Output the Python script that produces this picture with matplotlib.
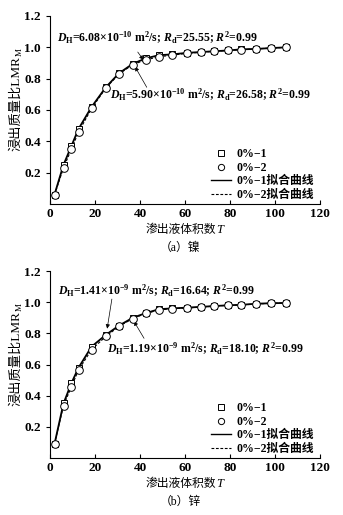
import matplotlib
matplotlib.use("Agg")
import matplotlib.pyplot as plt

plt.rcParams['font.family'] = ['Liberation Serif', 'Noto Sans CJK SC']
plt.rcParams['mathtext.fontset'] = 'custom'
plt.rcParams['mathtext.rm'] = 'Liberation Serif:bold'
plt.rcParams['mathtext.it'] = 'Liberation Serif:italic:bold'
plt.rcParams['axes.unicode_minus'] = False

# Leached volume number T (same sampling for both panels)
t_vals = [2, 6, 9.5, 12.7, 18.5, 24.8, 30.7, 36.8, 42.6, 48.5, 54.3, 61, 67, 73, 79, 85, 91.5, 98, 104.7]

# (a) nickel
ni_1 = [0.06, 0.25, 0.37, 0.48, 0.62, 0.745, 0.835, 0.895, 0.93, 0.95, 0.955, 0.965, 0.97, 0.975, 0.98, 0.987, 0.99, 0.995, 1.0]
ni_2 = [0.06, 0.23, 0.35, 0.46, 0.61, 0.74, 0.83, 0.89, 0.92, 0.94, 0.95, 0.962, 0.968, 0.975, 0.98, 0.985, 0.99, 0.995, 1.0]

# (b) zinc
zn_1 = [0.09, 0.35, 0.48, 0.58, 0.715, 0.79, 0.85, 0.9, 0.93, 0.955, 0.96, 0.965, 0.97, 0.975, 0.98, 0.983, 0.99, 0.993, 0.995]
zn_2 = [0.09, 0.336, 0.457, 0.565, 0.696, 0.78, 0.845, 0.895, 0.928, 0.95, 0.958, 0.963, 0.968, 0.975, 0.98, 0.982, 0.988, 0.993, 0.995]

labels = ['0%−1', '0%−2', '0%−1拟合曲线', '0%−2拟合曲线']

W, H = 343, 515
panels = [
    dict(top=16, bottom=204, y1=ni_1, y2=ni_2, cap='（a）镍',
         ann=[(r'$D_\mathrm{H}$=6.08×10$^{-10}$ m$^2$/s; $R_\mathrm{d}$=25.55; $R^2$=0.99', (3.1, 1.06), (39.0, 0.97), (41.5, 0.92)),
              (r'$D_\mathrm{H}$=5.90×10$^{-10}$ m$^2$/s; $R_\mathrm{d}$=26.58; $R^2$=0.99', (26.7, 0.70), (43.0, 0.745), (37.8, 0.876))]),
    dict(top=271, bottom=458, y1=zn_1, y2=zn_2, cap='（b）锌',
         ann=[(r'$D_\mathrm{H}$=1.41×10$^{-9}$ m$^2$/s; $R_\mathrm{d}$=16.64; $R^2$=0.99', (3.6, 1.07), (27.5, 1.02), (25.4, 0.83)),
              (r'$D_\mathrm{H}$=1.19×10$^{-9}$ m$^2$/s; $R_\mathrm{d}$=18.10; $R^2$=0.99', (25.3, 0.70), (41.8, 0.768), (37.3, 0.877))]),
]

fig = plt.figure(figsize=(3.43, 5.15), dpi=100)

def fx(px):
    return px / W

def fy(py):
    return 1 - py / H

for p in panels:
    ax = fig.add_axes([fx(50), fy(p['bottom']), fx(320) - fx(50), (p['bottom'] - p['top']) / H])
    ax.plot(t_vals, p['y1'], 's', ms=5, mfc='white', mec='k', mew=0.7, zorder=3)
    ax.plot(t_vals, p['y2'], 'o', ms=5.5, mfc='white', mec='k', mew=0.7, zorder=4)
    ax.plot(t_vals, p['y1'], '-', color='k', lw=1.3, zorder=2)
    ax.plot(t_vals, p['y2'], '--', color='k', lw=0.8, dashes=(2.5, 1.5), zorder=2)

    for txt, pos, tail, head in p['ann']:
        ax.text(pos[0], pos[1], txt, fontsize=8.5, fontweight='bold', va='center', ha='left')
        ax.annotate('', xy=head, xytext=tail,
                    arrowprops=dict(arrowstyle='-|>', lw=0.5, color='k', mutation_scale=6,
                                    shrinkA=0, shrinkB=0))

    ax.set_xlim(0, 120)
    ax.set_ylim(0, 1.2)
    ax.set_xticks([0, 20, 40, 60, 80, 100, 120])
    ax.set_yticks([0.2, 0.4, 0.6, 0.8, 1.0, 1.2])
    ax.set_yticklabels(['0.2', '0.4', '0.6', '0.8', '1.0', '1.2'])
    ax.spines['top'].set_visible(False)
    ax.spines['right'].set_visible(False)
    ax.spines['left'].set_linewidth(0.8)
    ax.spines['bottom'].set_linewidth(0.8)
    ax.tick_params(axis='x', direction='in', length=3, width=0.8, labelsize=9.5, pad=3)
    ax.tick_params(axis='y', direction='out', length=3, width=0.8, labelsize=9.5)
    for lbl in ax.get_xticklabels() + ax.get_yticklabels():
        lbl.set_fontweight('bold')

    h = [plt.Line2D([], [], ls='', marker='s', ms=4, mfc='white', mec='k', mew=0.7),
         plt.Line2D([], [], ls='', marker='o', ms=4.5, mfc='white', mec='k', mew=0.7),
         plt.Line2D([], [], ls='-', color='k', lw=1.0),
         plt.Line2D([], [], ls='--', color='k', lw=0.8, dashes=(2.5, 1.5))]
    ax.legend(h, labels, loc='lower left', bbox_to_anchor=(0.595, 0.015), frameon=False,
              prop=dict(size=8.5, weight='bold'), handlelength=1.7, handletextpad=0.5,
              labelspacing=0.15, borderpad=0, borderaxespad=0)

    # x label: Chinese text followed by italic T
    yl = fy(p['bottom'] + 26)
    fig.text(fx(216), yl, '渗出液体积数', ha='right', va='center', fontsize=8.5)
    fig.text(fx(216), yl, 'T', ha='left', va='center', fontsize=9, style='italic')

    # y label: Chinese text + LMR with subscript M
    ytop = p['top'] + 40
    fig.text(fx(16), fy(ytop), '浸出质量比LMR', rotation=90, ha='center', va='top',
             fontsize=9.5)
    fig.text(fx(19.5), fy(ytop), 'M', rotation=90, ha='center', va='bottom', fontsize=6.5)

    fig.text(fx(180), fy(p['bottom'] + 44), p['cap'], ha='center', va='center', fontsize=8.5)

fig.savefig('out.png', dpi=100)
